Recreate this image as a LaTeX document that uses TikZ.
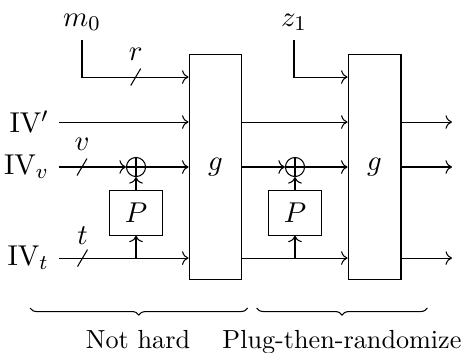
\documentclass[tikz,border=0pt,11pt]{standalone}
\usepackage{amsmath,amssymb}
\usetikzlibrary{arrows.meta, positioning, calc, decorations.pathreplacing}

\begin{document}
\begin{tikzpicture}[
    gbox/.style   = {draw, inner sep=0pt, minimum width=7.1mm, minimum height=30.3mm},
    pbox/.style   = {draw, inner sep=0pt, minimum width=7mm, minimum height=6mm},
    xorop/.style  = {circle, draw, inner sep=0pt, minimum size=7.3pt,
                     path picture={\draw (path picture bounding box.north) -- (path picture bounding box.south)
                                         (path picture bounding box.west) -- (path picture bounding box.east);}},
    inlab/.style  = {anchor=east},
    wire/.style   = {->},
    braced/.style = {decorate, decoration={brace, mirror, amplitude=2.7pt}},
    bracelab/.style = {anchor=base, font=\small}
]

\useasboundingbox (0,0) rectangle (6.229,4.726);

% Rounds
\node (g1) [gbox] at (2.893, 2.484) {$g$};
\node (g2) [gbox] at (5.028, 2.484) {$g$};

% Inputs
\node (m0) at (1.101, 4.430) {$m_0$};
\node (z1) at (3.947, 4.430) {$z_1$};
\node (ivp) [inlab] at (0.79, 3.088) {IV$'$};
\node (ivv) [inlab] at (0.79, 2.484) {IV$_v$};
\node (ivt) [inlab] at (0.79, 1.262) {IV$_t$};

% XOR and P
\node (x1) [xorop] at (1.826, 2.484) {};
\node (x2) [xorop] at (3.960, 2.484) {};
\node (p1) [pbox]  at (1.826, 1.870) {$P$};
\node (p2) [pbox]  at (3.960, 1.870) {$P$};
\coordinate (j1) at (x1 |- ivt);
\coordinate (j2) at (x2 |- ivt);

% Bus widths
\coordinate (rs) at (1.822, 3.692);
\coordinate (vs) at (1.101, 2.484);
\coordinate (ts) at (1.108, 1.262);
\foreach \s in {rs, vs, ts}
    \draw (\s) +(-0.067,-0.114) -- +(0.067,0.114);
\node (rlab) [above=0.8mm of rs]  {$r$};
\node (vlab) [above=0.8mm of vs]  {$v$};
\node (tlab) [above=0.4mm of ts]  {$t$};

% Outputs
\coordinate (o1) at (6.068, 3.088);
\coordinate (o2) at (6.068, 2.484);
\coordinate (o3) at (6.068, 1.262);

% Wires
\draw [wire] (m0) |- (g1.west |- rs);
\draw [wire] (z1) |- (g2.west |- rs);

\draw [wire] (ivp) -- (g1.west |- ivp);
\draw [wire] (g1.east |- ivp) -- (g2.west |- ivp);
\draw [wire] (g2.east |- ivp) -- (o1);

\draw [wire] (ivv) -- (x1);
\draw [wire] (x1) -- (g1.west |- x1);
\draw [wire] (g1.east |- x1) -- (x2);
\draw [wire] (x2) -- (g2.west |- x2);
\draw [wire] (g2.east |- x2) -- (o2);

\draw [wire] (ivt) -- (g1.west |- ivt);
\draw [wire] (g1.east |- ivt) -- (g2.west |- ivt);
\draw [wire] (g2.east |- ivt) -- (o3);
\draw [wire] (j1) -- (p1);
\draw [wire] (p1) -- (x1);
\draw [wire] (j2) -- (p2);
\draw [wire] (p2) -- (x2);

% Braces
\coordinate (b1l) at (0.403, 0.591);
\coordinate (b1r) at (3.325, 0.591);
\coordinate (b2l) at (3.446, 0.591);
\coordinate (b2r) at (5.737, 0.591);
\draw [braced] (b1l) -- (b1r);
\draw [braced] (b2l) -- (b2r);
\node (nh)  [bracelab] at (1.853, 0.054) {Not hard};
\node (ptr) [bracelab] at (4.591, 0.054) {Plug-then-randomize};

\end{tikzpicture}
\end{document}
